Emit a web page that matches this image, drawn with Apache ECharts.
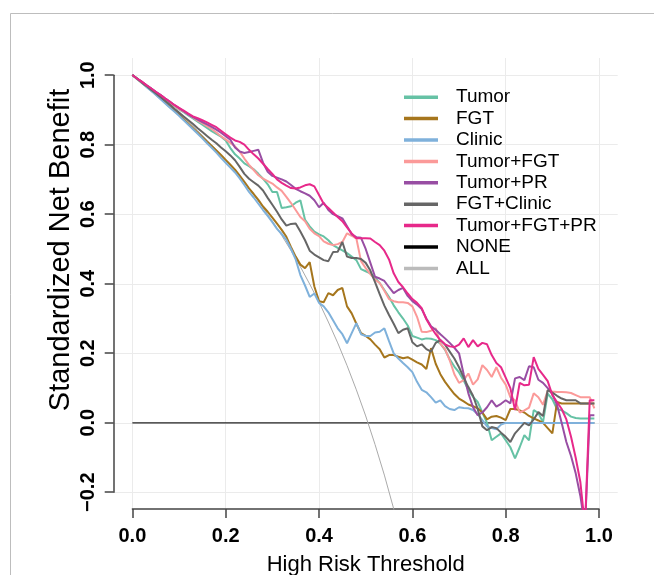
<!DOCTYPE html>
<html>
<head>
<meta charset="utf-8">
<script src="https://cdn.jsdelivr.net/npm/echarts@6/dist/echarts.min.js"></script>
<style>html,body{margin:0;padding:0;background:#fff}#c{width:654px;height:575px}</style>
</head>
<body>
<div id="c"></div>
<script>
const thresholds = [0,0.01,0.02,0.03,0.04,0.05,0.06,0.07,0.08,0.09,0.10,0.11,0.12,0.13,0.14,0.15,0.16,0.17,0.18,0.19,0.20,0.21,0.22,0.23,0.24,0.25,0.26,0.27,0.28,0.29,0.30,0.31,0.32,0.33,0.34,0.35,0.36,0.37,0.38,0.39,0.40,0.41,0.42,0.43,0.44,0.45,0.46,0.47,0.48,0.49,0.50,0.51,0.52,0.53,0.54,0.55,0.56,0.57,0.58,0.59,0.60,0.61,0.62,0.63,0.64,0.65,0.66,0.67,0.68,0.69,0.70,0.71,0.72,0.73,0.74,0.75,0.76,0.77,0.78,0.79,0.80,0.81,0.82,0.83,0.84,0.85,0.86,0.87,0.88,0.89,0.90,0.91,0.92,0.93,0.94,0.95,0.96,0.97,0.98,0.99];

const tumor = [1.000,0.990,0.980,0.970,0.961,0.951,0.941,0.931,0.921,0.911,0.901,0.893,0.884,0.875,0.866,0.857,0.848,0.839,0.831,0.823,0.812,0.790,0.772,0.760,0.746,0.738,0.729,0.716,0.702,0.686,0.664,0.664,0.618,0.620,0.623,0.633,0.640,0.584,0.565,0.550,0.542,0.536,0.525,0.511,0.503,0.496,0.488,0.478,0.468,0.442,0.436,0.430,0.418,0.402,0.382,0.362,0.338,0.318,0.300,0.280,0.250,0.245,0.240,0.243,0.242,0.238,0.228,0.210,0.183,0.162,0.145,0.122,0.095,0.075,0.060,0.030,0.000,-0.050,-0.040,-0.030,-0.050,-0.070,-0.102,-0.070,-0.035,-0.050,0.037,0.028,0.002,0.084,0.068,0.040,0.036,0.028,0.018,0.014,0.013,0.013,0.013,0.013];

const fgt = [1.000,0.989,0.978,0.967,0.956,0.945,0.933,0.921,0.909,0.897,0.886,0.873,0.860,0.847,0.834,0.821,0.808,0.796,0.783,0.770,0.756,0.742,0.728,0.711,0.693,0.674,0.658,0.641,0.622,0.607,0.590,0.573,0.555,0.535,0.505,0.478,0.455,0.445,0.462,0.392,0.350,0.347,0.373,0.367,0.382,0.388,0.335,0.315,0.285,0.258,0.250,0.240,0.225,0.212,0.188,0.195,0.195,0.190,0.186,0.189,0.182,0.174,0.168,0.155,0.215,0.170,0.140,0.118,0.100,0.083,0.070,0.062,0.053,0.048,0.042,0.030,0.010,0.018,0.020,0.015,0.008,0.040,0.040,0.036,0.030,0.020,0.013,0.007,0.000,-0.015,-0.030,0.060,0.056,0.056,0.056,0.056,0.056,0.056,0.056,0.056];

const clinic = [1.000,0.989,0.978,0.966,0.955,0.943,0.931,0.919,0.907,0.895,0.883,0.870,0.857,0.844,0.831,0.818,0.804,0.791,0.777,0.762,0.748,0.734,0.720,0.703,0.684,0.664,0.648,0.630,0.612,0.595,0.577,0.558,0.543,0.526,0.500,0.470,0.425,0.395,0.362,0.372,0.345,0.335,0.318,0.295,0.272,0.255,0.229,0.258,0.287,0.255,0.250,0.250,0.260,0.262,0.272,0.235,0.200,0.185,0.172,0.160,0.146,0.118,0.095,0.088,0.074,0.058,0.065,0.048,0.040,0.037,0.045,0.043,0.042,0.037,0.025,0.008,-0.010,-0.015,-0.018,-0.005,0.000,0.000,0.000,0.000,0.000,0.000,0.000,0.000,0.000,0.000,0.000,0.000,0.000,0.000,0.000,0.000,0.000,0.000,0.000,0.000];

const tumorFgt = [1.000,0.990,0.980,0.970,0.961,0.951,0.942,0.932,0.922,0.912,0.902,0.895,0.887,0.878,0.869,0.862,0.853,0.845,0.835,0.824,0.815,0.805,0.795,0.780,0.760,0.742,0.727,0.712,0.702,0.695,0.688,0.677,0.667,0.650,0.632,0.612,0.592,0.580,0.558,0.545,0.537,0.522,0.515,0.511,0.514,0.520,0.545,0.538,0.530,0.465,0.445,0.428,0.412,0.402,0.380,0.356,0.350,0.347,0.347,0.345,0.335,0.305,0.262,0.261,0.265,0.272,0.228,0.212,0.180,0.140,0.115,0.123,0.142,0.110,0.125,0.166,0.152,0.132,0.160,0.130,0.110,0.074,0.065,0.030,0.036,0.044,0.085,0.074,0.052,0.093,0.090,0.089,0.089,0.088,0.086,0.080,0.074,0.074,0.074,0.042];

const tumorPr = [1.000,0.990,0.981,0.971,0.962,0.952,0.943,0.933,0.924,0.914,0.905,0.896,0.887,0.879,0.872,0.865,0.858,0.851,0.843,0.834,0.824,0.814,0.792,0.780,0.776,0.779,0.782,0.785,0.748,0.722,0.710,0.705,0.700,0.694,0.684,0.673,0.666,0.660,0.653,0.640,0.620,0.633,0.612,0.600,0.594,0.588,0.565,0.542,0.534,0.532,0.500,0.460,0.420,0.415,0.408,0.390,0.373,0.382,0.388,0.365,0.350,0.340,0.327,0.300,0.278,0.268,0.255,0.243,0.230,0.216,0.200,0.140,0.085,0.045,0.022,0.030,0.045,0.065,0.047,0.055,0.065,0.056,0.128,0.132,0.123,0.163,0.160,0.124,0.115,0.100,0.083,0.052,0.000,-0.055,-0.095,-0.145,-0.210,-0.300,0.022,0.022];

const fgtClinic = [1.000,0.990,0.979,0.969,0.958,0.948,0.937,0.926,0.915,0.903,0.892,0.881,0.870,0.859,0.847,0.836,0.825,0.814,0.804,0.792,0.781,0.769,0.755,0.736,0.716,0.702,0.692,0.682,0.668,0.647,0.627,0.607,0.585,0.567,0.572,0.573,0.550,0.525,0.495,0.484,0.476,0.468,0.465,0.491,0.492,0.520,0.478,0.474,0.474,0.471,0.460,0.438,0.405,0.370,0.337,0.310,0.285,0.258,0.268,0.272,0.232,0.220,0.226,0.212,0.205,0.230,0.238,0.225,0.205,0.185,0.160,0.130,0.103,0.078,0.040,-0.010,-0.021,-0.012,-0.015,-0.028,-0.040,-0.055,-0.030,-0.015,0.000,-0.007,0.010,0.031,0.020,0.094,0.087,0.078,0.070,0.065,0.065,0.065,0.056,0.056,0.056,0.056];

const tumorFgtPr = [1.000,0.990,0.981,0.971,0.962,0.952,0.943,0.933,0.924,0.914,0.906,0.898,0.889,0.881,0.876,0.870,0.864,0.857,0.850,0.840,0.830,0.820,0.812,0.808,0.800,0.785,0.772,0.760,0.745,0.730,0.716,0.700,0.690,0.682,0.675,0.674,0.677,0.683,0.686,0.680,0.655,0.630,0.618,0.605,0.592,0.580,0.562,0.545,0.531,0.531,0.531,0.530,0.520,0.511,0.495,0.470,0.430,0.405,0.390,0.372,0.356,0.345,0.330,0.298,0.275,0.255,0.238,0.226,0.220,0.218,0.225,0.243,0.218,0.238,0.220,0.230,0.226,0.195,0.172,0.160,0.130,0.100,0.037,0.115,0.108,0.110,0.189,0.155,0.138,0.120,0.080,0.060,0.040,0.010,-0.040,-0.100,-0.170,-0.300,0.065,0.065];

const noneX = [0, 0.99];
const noneY = [0, 0];

const allX = [0,0.02,0.04,0.06,0.08,0.10,0.12,0.14,0.16,0.18,0.20,0.22,0.24,0.26,0.28,0.30,0.32,0.34,0.36,0.38,0.40,0.42,0.44,0.46,0.48,0.50,0.52,0.54,0.56,0.58];
const allY = [1.000,0.980,0.959,0.937,0.915,0.891,0.866,0.840,0.813,0.785,0.755,0.724,0.691,0.656,0.619,0.580,0.539,0.495,0.449,0.399,0.347,0.290,0.230,0.165,0.095,0.020,-0.062,-0.150,-0.247,-0.353];

const xTicks = [0, 0.2, 0.4, 0.6, 0.8, 1.0];
const yTicks = [-0.2, 0, 0.2, 0.4, 0.6, 0.8, 1.0];

const xTitle = 'High Risk Threshold';
const yTitle = 'Standardized Net Benefit';

const FONT = '"Liberation Sans", Arial, Helvetica, sans-serif';

function pairs(xs, ys) { return xs.map((x, i) => [x, ys[i]]); }

const models = [
  {name: 'Tumor', data: tumor, color: '#66C2A5'},
  {name: 'FGT', data: fgt, color: '#A6761D'},
  {name: 'Clinic', data: clinic, color: '#7FB1DB'},
  {name: 'Tumor+FGT', data: tumorFgt, color: '#FB9A99'},
  {name: 'Tumor+PR', data: tumorPr, color: '#984EA3'},
  {name: 'FGT+Clinic', data: fgtClinic, color: '#666666'},
  {name: 'Tumor+FGT+PR', data: tumorFgtPr, color: '#E7298A'}
];

const series = [
  {name: 'NONE', type: 'line', xAxisIndex: 0, yAxisIndex: 0, data: pairs(noneX, noneY),
   showSymbol: false, symbol: 'none', color: '#000', lineStyle: {width: 1.3, color: '#222'}, animation: false, z: 2},
  {name: 'ALL', type: 'line', xAxisIndex: 0, yAxisIndex: 0, data: pairs(allX, allY), smooth: false,
   showSymbol: false, symbol: 'none', color: '#BBBBBB', lineStyle: {width: 1, color: '#AAAAAA'}, animation: false, z: 2}
];
models.forEach(m => series.push({
  name: m.name, type: 'line', xAxisIndex: 0, yAxisIndex: 0, data: pairs(thresholds, m.data),
  showSymbol: false, symbol: 'none', color: m.color, lineStyle: {width: 2, color: m.color}, animation: false, z: 3
}));

const chart = echarts.init(document.getElementById('c'), null, {renderer: 'canvas'});
chart.setOption({
  backgroundColor: '#fff',
  animation: false,
  grid: [
    {left: 113.7, right: 36.3, top: 58, bottom: 66, containLabel: false},
    {left: 132.4, right: 55, top: 75.2, bottom: 82.8, containLabel: false}
  ],
  xAxis: [
    {type: 'value', gridIndex: 0, min: -0.04, max: 1.04,
     axisLine: {show: false, onZero: false}, axisLabel: {show: false, customValues: xTicks},
     axisTick: {show: false, customValues: xTicks},
     splitLine: {show: true, lineStyle: {color: '#EBEBEB', width: 1}}},
    {type: 'value', gridIndex: 1, min: 0, max: 1, interval: 0.2, position: 'bottom', offset: 16.8,
     axisLine: {show: true, onZero: false, lineStyle: {color: '#444', width: 1.5}},
     axisTick: {show: true, length: 9, lineStyle: {color: '#444', width: 1.5}},
     axisLabel: {show: true, margin: 17, color: '#000', fontSize: 20, fontWeight: 'bold', fontFamily: FONT,
       formatter: v => v.toFixed(1)},
     splitLine: {show: false}}
  ],
  yAxis: [
    {type: 'value', gridIndex: 0, min: -0.2475, max: 1.049,
     axisLine: {show: false, onZero: false}, axisLabel: {show: false, customValues: yTicks},
     axisTick: {show: false, customValues: yTicks},
     splitLine: {show: true, lineStyle: {color: '#EBEBEB', width: 1}}},
    {type: 'value', gridIndex: 1, min: -0.2, max: 1.0, interval: 0.2, position: 'left', offset: 18.7,
     axisLine: {show: true, onZero: false, lineStyle: {color: '#444', width: 1.5}},
     axisTick: {show: true, length: 9, lineStyle: {color: '#444', width: 1.5}},
     axisLabel: {show: true, rotate: 90, margin: 15, color: '#000', fontSize: 20, fontWeight: 'bold', fontFamily: FONT,
       formatter: v => (v < 0 ? '\u2212' + Math.abs(v).toFixed(1) : v.toFixed(1))},
     splitLine: {show: false}}
  ],
  legend: {
    orient: 'vertical', left: 404, top: 86.5, padding: 0, itemWidth: 34, itemHeight: 3.5, itemGap: 0,
    icon: 'rect', selectedMode: false,
    textStyle: {fontSize: 19, color: '#000', fontFamily: FONT, lineHeight: 21.4, padding: [0, 0, 0, 13]},
    data: ['Tumor', 'FGT', 'Clinic', 'Tumor+FGT', 'Tumor+PR', 'FGT+Clinic', 'Tumor+FGT+PR', 'NONE', 'ALL']
  },
  graphic: [
    {type: 'rect', left: 8, top: 11, shape: {width: 700, height: 620}, silent: true,
     style: {fill: 'none', stroke: '#BDBDBD', lineWidth: 1}, z: -10},
    {type: 'text', x: 365.7, y: 565, silent: true,
     style: {text: xTitle, fontSize: 22, fontFamily: FONT, fill: '#000', align: 'center', verticalAlign: 'middle'}},
    {type: 'text', x: 61, y: 250, rotation: Math.PI / 2, silent: true,
     style: {text: yTitle, fontSize: 29, fontFamily: FONT, fill: '#000', align: 'center', verticalAlign: 'middle'}}
  ],
  series: series
});
</script>
</body>
</html>
